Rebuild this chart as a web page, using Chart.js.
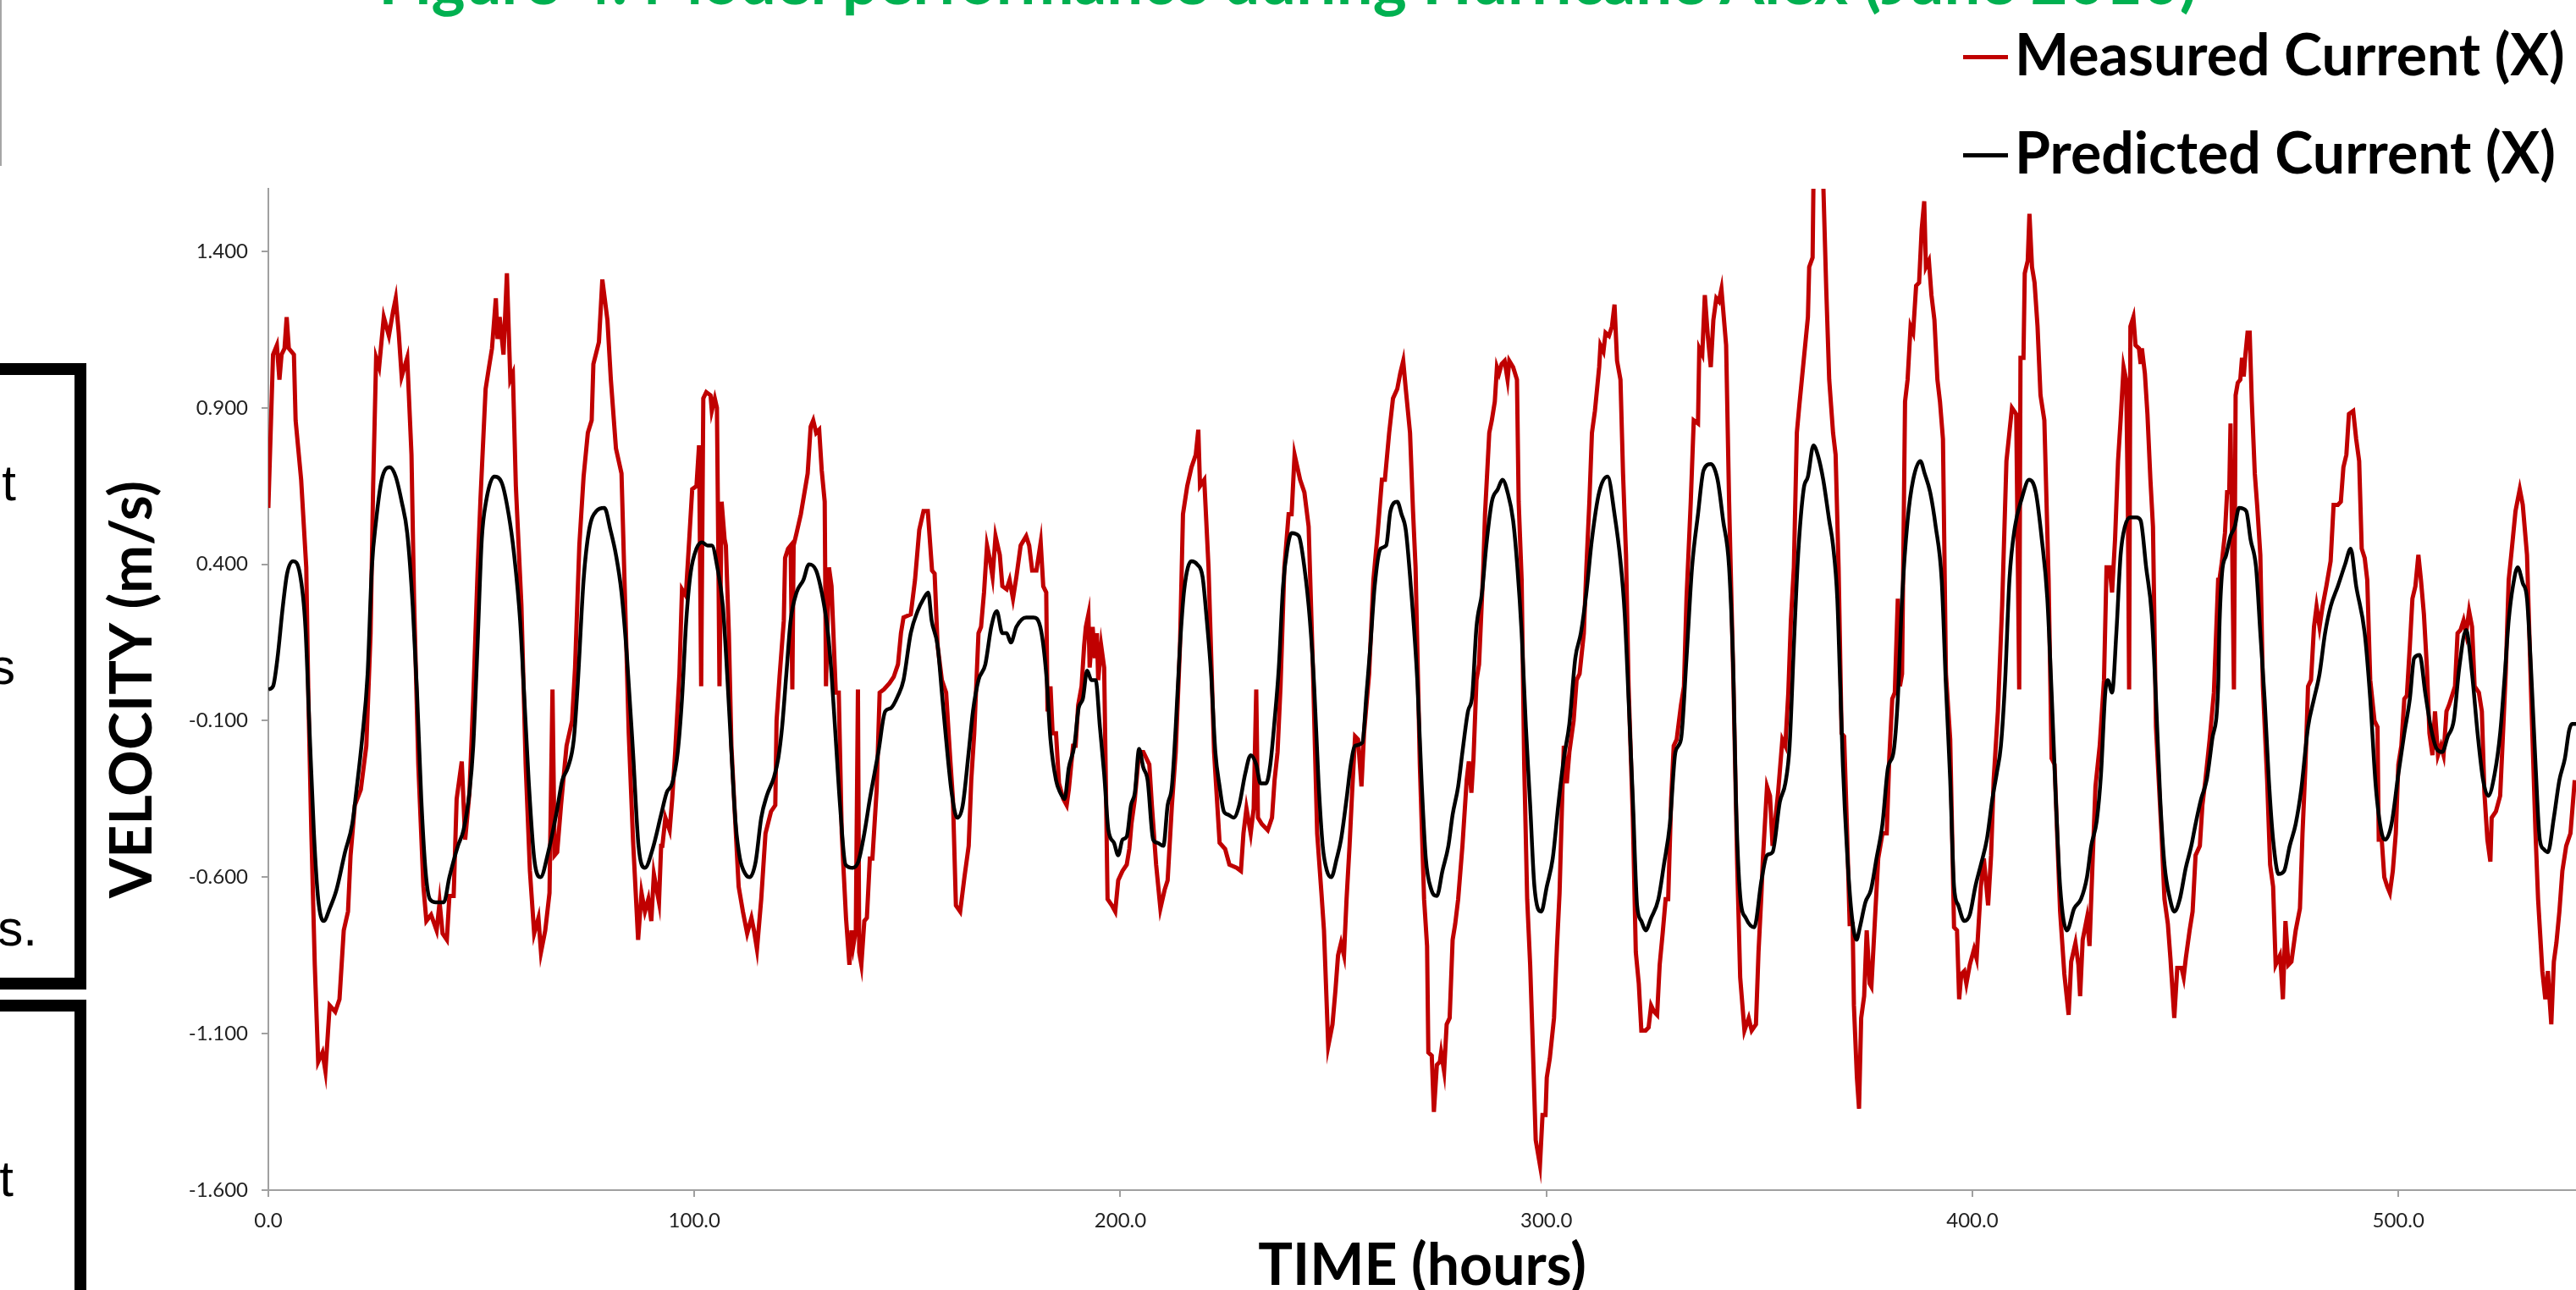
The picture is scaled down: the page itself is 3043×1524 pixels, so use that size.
<!DOCTYPE html>
<html>
<head>
<meta charset="utf-8">
<title>Model performance during Hurricane Alex</title>
<script src="https://cdn.jsdelivr.net/npm/chart.js@4.4.0/dist/chart.umd.min.js"></script>
<style>
  html, body { margin: 0; padding: 0; background: #fff; overflow: hidden; }
  #page { position: relative; width: 3043px; height: 1524px; overflow: hidden; background: #fff; }
  #chartWrap { position: absolute; left: 0; top: 0; width: 3043px; height: 1524px; }

  /* figure caption, mostly above the page edge */
  .figTitle {
    position: absolute; left: 0; top: -62px; width: 3043px; text-align: center;
    font: bold 76px Lato, sans-serif; line-height: 76px; color: #00b050; white-space: nowrap;
  }

  /* legend */
  .legItem { position: absolute; left: 2319px; white-space: nowrap; }
  .legLine { position: absolute; left: 0; width: 53px; height: 5px; }
  .legText { position: absolute; left: 61px; font: bold 68px Lato, sans-serif; line-height: 68px; color: #000; }

  /* neighbouring slide boxes cut by the left edge */
  .greyBox { position: absolute; left: -300px; top: -10px; width: 302px; height: 206px;
             border: 2px solid #a6a6a6; box-sizing: border-box; }
  .blackBox { position: absolute; left: -200px; width: 302px; border: 14px solid #000; box-sizing: border-box; }
  .sideText { position: absolute; font: 60px "Liberation Sans", Arial, sans-serif; line-height: 60px;
              color: #000; text-align: right; white-space: nowrap; }
</style>
</head>
<body>
<div id="page">
  <div id="chartWrap"><canvas id="currentChart"></canvas></div>

  <div class="figTitle">Figure 4. Model performance during Hurricane Alex (June 2010)</div>

  <div class="greyBox"></div>
  <div class="blackBox" style="top:429px; height:740px;"></div>
  <div class="blackBox" style="top:1181px; height:500px;"></div>
  <div class="sideText" style="right:3024px; top:541px;">t</div>
  <div class="sideText" style="right:3025px; top:758px;">s</div>
  <div class="sideText" style="right:2999px; top:1067px;">s.</div>
  <div class="sideText" style="right:3027px; top:1363px;">t</div>

  <div id="legend"></div>
</div>

<script>
// Hurricane Alex, June 2010 — measured vs predicted current (X component)

const seriesNames = ["Measured Current (X)", "Predicted Current (X)"];
const seriesColors = ["#c00000", "#000000"];

const xTicks = [0, 100, 200, 300, 400, 500];
const yTicks = [-1.6, -1.1, -0.6, -0.1, 0.4, 0.9, 1.4];

// measured (red) — hours
const measuredTime = [
  0, 1.1, 2.0, 2.6, 3.1, 3.8, 4.3, 4.8, 6.0, 6.4,
  7.7, 8.9, 9.4, 10.1, 10.9, 11.7, 12.7, 13.4, 14.4, 15.7,
  16.7, 17.7, 18.7, 19.3, 20.3, 21.7, 23.0, 24.0, 24.6, 25.3,
  26.0, 27.1, 28.3, 29.3, 29.9, 30.6, 31.3, 32.6, 33.6, 34.2,
  35.2, 36.4, 37.1, 38.2, 39.5, 40.2, 40.9, 41.9, 42.5, 43.5,
  44.2, 45.4, 46.2, 47.2, 48.1, 49.1, 49.8, 51.0, 51.8, 52.5,
  53.4, 53.8, 54.3, 55.2, 56.0, 56.8, 57.4, 58.1, 59.4, 60.4,
  61.4, 62.4, 63.4, 64.0, 65.0, 66.0, 66.7, 67.2, 67.8, 68.7,
  70.0, 71.3, 72.0, 73.0, 74.0, 75.0, 75.9, 76.3, 77.6, 78.4,
  79.6, 80.4, 81.6, 82.9, 83.6, 84.6, 85.6, 86.8, 87.6, 88.4,
  89.2, 89.9, 90.5, 91.7, 92.2,
  92.5, 93.2, 94.2, 94.8, 95.5, 96.5, 97.1, 98.0, 98.8, 99.5,
  100.5, 101.1, 101.6, 102.1, 102.8, 103.8, 104.1, 104.8, 105.3, 105.6,
  105.9, 106.4, 107.1, 107.4, 108.1, 108.7, 109.4, 110.4, 111.4, 112.4,
  113.4, 114.0, 114.7, 115.7, 116.7, 118.0, 119.0, 119.3, 120.0, 121.0,
  121.3, 122.0, 122.6, 123.0, 123.3, 124.0, 125.0, 126.6, 127.3, 127.9,
  128.6, 129.3, 129.9, 130.6, 130.9, 131.6, 132.2, 133.2, 133.9, 134.6,
  135.6, 136.4, 136.9, 137.3, 137.9, 138.4, 138.7, 139.2, 139.9, 140.5,
  141.2, 141.8, 142.8, 143.5, 144.5, 145.8, 146.8, 147.8, 148.5, 149.1,
  150.8, 151.8, 152.8, 153.8, 154.8, 155.8, 156.4, 157.1, 158.1, 159.1,
  160.1, 160.7, 161.4, 162.4, 163.4, 164.4, 165.0, 165.7, 166.7, 167.3,
  168.0, 168.7, 169.3, 170.0, 170.7, 171.7, 172.3, 173.3, 174.0, 174.8,
  175.6, 176.6, 177.9, 178.6, 179.3, 180.3, 181.3, 181.9, 182.6, 182.9,
  183.6,
  184.1, 184.9, 185.6, 186.6, 187.4, 187.9, 188.9, 189.5, 190.1, 190.9,
  191.5, 191.9, 192.5, 192.8, 193.5, 194.0, 194.5, 194.8, 195.5, 196.2,
  197.0, 198.0, 198.8, 199.5, 200.5, 201.5, 202.1, 202.6, 203.4, 204.4,
  205.4, 206.8, 207.4, 208.4, 209.4, 210.4, 211.1, 212.1, 213.0, 214.0,
  214.7, 215.7, 216.7, 217.7, 218.3, 218.7, 219.7, 220.7, 222.0, 223.3,
  224.6, 225.6, 227.3, 228.3, 228.9, 229.6, 230.6, 231.3, 231.9, 232.3,
  233.2, 234.6, 235.6, 236.2, 236.9, 237.6, 238.5, 239.5, 240.2, 240.9,
  242.2, 243.2, 244.2, 245.2, 246.2, 247.2, 247.8, 248.8, 249.8, 250.5,
  251.1, 251.8, 252.5, 253.1, 253.8, 254.4, 255.1, 255.8, 256.6, 257.2,
  258.4, 259.4, 260.4, 261.4, 262.1, 263.1, 264.0, 265.0, 265.7, 266.4,
  267.0, 268.0, 268.7, 269.3, 270.3, 271.3, 272.0, 272.3, 273.1, 273.6,
  274.3, 275.0,
  275.3, 276.0, 276.6, 277.3, 278.0, 278.6, 279.3, 280.3, 281.3, 281.8,
  282.4, 282.9, 283.6, 284.2, 285.2, 285.6, 286.6, 287.2, 287.9, 288.4,
  288.9, 289.5, 290.2, 290.9, 291.3, 292.2, 293.1, 293.5, 294.2, 294.8,
  295.5, 296.2, 296.8, 297.5, 298.5, 299.1, 299.8, 300.1, 300.8, 301.8,
  302.5, 303.1, 303.8, 304.1, 304.8, 305.4, 306.4, 307.1, 307.8, 308.8,
  309.4, 310.1, 310.7, 311.4, 312.4, 312.7, 313.4, 313.9, 314.7, 315.4,
  316.0, 316.6, 317.4, 318.0, 318.7, 319.3, 320.3, 321.0, 321.7, 322.3,
  323.3, 324.0, 324.6, 325.3, 326.0, 326.6, 327.3, 328.0, 328.6, 329.3,
  329.9, 330.6, 331.6, 332.3, 332.9, 333.9, 334.6, 335.6, 335.9, 336.6,
  337.2, 337.9, 338.6, 339.2, 339.9, 340.5, 341.1, 342.2, 342.9, 343.9,
  344.8, 345.5, 346.5, 347.5, 348.2, 349.2, 349.8, 350.5, 350.8, 351.8,
  352.5, 353.1, 353.8, 354.4, 355.4, 356.1, 356.8, 357.4, 358.1, 358.8,
  359.4, 360.4, 361.4, 361.7, 362.5, 362.7, 363.7, 364.4, 365.0, 365.7,
  366.4,
  367.3, 367.9, 368.6, 369.3, 369.9, 370.6, 371.2, 371.9, 372.2, 372.9,
  373.4, 373.9, 374.6, 375.2, 375.9, 376.3, 377.0, 377.9, 378.9, 379.9,
  380.5, 381.2, 381.8, 382.5, 383.0, 383.5, 384.2, 384.8, 385.5, 386.1,
  386.8, 387.5, 388.1, 388.7, 389.1, 389.8, 390.4, 391.1, 391.8, 392.4,
  393.1, 393.8, 394.8, 395.7, 396.4, 396.9, 397.4, 398.1, 398.6, 399.4,
  400.4, 401.0, 402.0, 402.7, 403.7, 404.4, 405.0, 406.0, 407.0, 408.0,
  409.3, 410.3, 411.0, 411.3, 412.0, 412.3, 413.0, 413.4, 414.0, 414.6,
  415.3, 416.0, 416.9, 417.9, 418.6, 419.3, 419.9, 420.6, 421.6, 422.6,
  423.2, 424.2, 424.9, 425.3, 425.9, 426.9, 427.5, 428.2, 428.9, 429.9,
  430.9, 431.5, 432.2, 432.8, 433.5, 434.2, 434.8, 435.5, 436.1, 436.5,
  436.8, 437.1, 437.8, 438.3, 439.1, 439.5, 439.8, 440.5, 441.1, 441.8,
  442.4, 443.1, 444.4, 445.1, 445.9, 446.5, 447.4, 448.1, 449.1, 449.6,
  450.1, 451.0, 451.7, 452.4, 453.4, 454.0, 454.7, 455.7, 456.7, 457.7,
  458.0, 458.6, 459.3, 459.8, 460.3, 460.6, 461.0, 461.4, 461.8, 462.3,
  462.9, 463.3, 463.7, 464.1, 464.6, 465.1, 465.6, 466.3, 466.9, 467.6,
  468.2, 469.2, 469.9, 470.6, 471.2, 472.2, 472.5, 472.9, 473.5, 474.2,
  474.9, 475.9, 476.9, 477.5, 478.2, 478.8, 479.5, 480.2, 480.8, 481.5,
  482.2, 483.1, 484.1, 484.8, 485.8, 486.5, 487.1, 487.8, 488.4, 489.4,
  490.1, 490.8, 491.4, 492.1, 492.7, 493.4, 494.4, 495.1, 495.4, 496.1,
  496.7, 497.4, 498.0, 498.7, 499.4, 500.0, 500.7, 501.4, 502.0, 502.7,
  503.3, 504.0, 504.7, 505.3, 506.0, 506.7, 507.3, 508.0, 508.6, 509.3,
  510.0, 510.6, 511.3, 511.9, 513.3, 513.9, 514.6, 515.3, 515.9, 516.6,
  517.3, 517.9, 518.9, 519.6, 520.2, 520.9, 521.6, 521.9, 522.9, 523.9,
  524.5, 525.2, 525.9, 526.5, 527.5, 528.5, 529.2, 530.2, 531.2, 532.2,
  532.8, 533.8, 534.5, 535.1, 535.5, 535.9, 536.5, 537.1, 537.8, 538.5,
  539.4, 540.4, 541.4
];

// measured (red) — m/s
const measuredCurrent = [
  0.58, 1.07, 1.10, 0.99, 1.07, 1.09, 1.19, 1.09, 1.07, 0.86,
  0.67, 0.39, -0.03, -0.46, -0.88, -1.19, -1.16, -1.22, -1.01, -1.03,
  -0.99, -0.77, -0.71, -0.53, -0.37, -0.32, -0.18, 0.18, 0.65, 1.06,
  1.03, 1.19, 1.13, 1.21, 1.25, 1.14, 1.00, 1.06, 0.75, 0.29,
  -0.24, -0.63, -0.74, -0.72, -0.77, -0.68, -0.78, -0.80, -0.66, -0.66,
  -0.35, -0.23, -0.48, -0.33, -0.03, 0.37, 0.61, 0.96, 1.03, 1.09,
  1.25, 1.12, 1.19, 1.07, 1.33, 0.99, 1.01, 0.65, 0.27, -0.24,
  -0.58, -0.78, -0.73, -0.84, -0.77, -0.65, 0.00, -0.53, -0.52, -0.37,
  -0.18, -0.10, 0.07, 0.46, 0.68, 0.82, 0.86, 1.04, 1.11, 1.31,
  1.18, 0.99, 0.77, 0.69, 0.35, -0.14, -0.48, -0.80, -0.65, -0.71,
  -0.67, -0.74, -0.59, -0.68, -0.50,
  -0.50, -0.41, -0.45, -0.35, -0.20, 0.05, 0.32, 0.30, 0.48, 0.64,
  0.65, 0.78, 0.01, 0.93, 0.95, 0.94, 0.89, 0.93, 0.90, 0.48,
  0.01, 0.60, 0.48, 0.46, 0.18, -0.18, -0.37, -0.63, -0.71, -0.78,
  -0.73, -0.77, -0.83, -0.67, -0.46, -0.39, -0.37, -0.10, 0.04, 0.22,
  0.42, 0.45, 0.46, 0.00, 0.46, 0.50, 0.56, 0.69, 0.84, 0.86,
  0.82, 0.83, 0.70, 0.60, 0.01, 0.39, 0.33, -0.01, -0.01, -0.46,
  -0.73, -0.88, -0.77, -0.82, -0.77, 0.00, -0.84, -0.88, -0.74, -0.73,
  -0.54, -0.54, -0.32, -0.01, 0.00, 0.02, 0.04, 0.08, 0.18, 0.23,
  0.24, 0.35, 0.51, 0.57, 0.57, 0.38, 0.37, 0.14, 0.03, -0.01,
  -0.23, -0.35, -0.69, -0.71, -0.60, -0.50, -0.29, -0.14, 0.18, 0.20,
  0.31, 0.46, 0.42, 0.36, 0.49, 0.43, 0.33, 0.32, 0.35, 0.29,
  0.36, 0.46, 0.49, 0.46, 0.38, 0.38, 0.47, 0.33, 0.31, -0.07,
  0.01,
  -0.14, -0.14, -0.30, -0.35, -0.37, -0.32, -0.18, -0.18, -0.05, 0.01,
  0.14, 0.20, 0.24, 0.07, 0.20, 0.10, 0.18, 0.03, 0.14, 0.07,
  -0.67, -0.69, -0.71, -0.61, -0.58, -0.56, -0.51, -0.43, -0.35, -0.20,
  -0.20, -0.24, -0.37, -0.56, -0.70, -0.64, -0.61, -0.37, -0.20, 0.14,
  0.56, 0.65, 0.71, 0.75, 0.83, 0.65, 0.67, 0.39, -0.20, -0.49,
  -0.51, -0.56, -0.57, -0.58, -0.46, -0.38, -0.46, -0.38, 0.00, -0.41,
  -0.43, -0.45, -0.41, -0.29, -0.20, 0.01, 0.39, 0.56, 0.56, 0.75,
  0.67, 0.63, 0.52, 0.07, -0.46, -0.65, -0.77, -1.14, -1.07, -0.96,
  -0.85, -0.81, -0.85, -0.67, -0.50, -0.33, -0.15, -0.16, -0.31, -0.14,
  0.05, 0.35, 0.50, 0.67, 0.67, 0.82, 0.93, 0.96, 1.01, 1.05,
  0.96, 0.82, 0.57, 0.39, -0.24, -0.67, -0.82, -1.16, -1.17, -1.35,
  -1.20, -1.19,
  -1.16, -1.22, -1.07, -1.05, -0.80, -0.75, -0.67, -0.50, -0.29, -0.23,
  -0.33, -0.22, 0.03, 0.08, 0.39, 0.56, 0.82, 0.86, 0.92, 1.03,
  1.01, 1.04, 1.05, 0.99, 1.05, 1.03, 0.99, 0.60, 0.35, -0.24,
  -0.67, -0.88, -1.13, -1.44, -1.52, -1.36, -1.36, -1.24, -1.18, -1.05,
  -0.82, -0.65, -0.31, -0.18, -0.30, -0.20, -0.10, 0.03, 0.05, 0.18,
  0.39, 0.60, 0.82, 0.89, 1.03, 1.10, 1.08, 1.14, 1.13, 1.16,
  1.23, 1.05, 0.99, 0.69, 0.43, 0.01, -0.41, -0.84, -0.94, -1.09,
  -1.09, -1.08, -1.01, -1.03, -1.04, -0.88, -0.78, -0.67, -0.67, -0.35,
  -0.18, -0.16, -0.05, 0.01, 0.29, 0.60, 0.86, 0.85, 1.09, 1.07,
  1.26, 1.13, 1.03, 1.18, 1.25, 1.24, 1.28, 1.10, 0.60, 0.03,
  -0.56, -0.92, -1.09, -1.05, -1.09, -1.07, -0.84, -0.65, -0.55, -0.31,
  -0.34, -0.50, -0.41, -0.33, -0.16, -0.18, -0.01, 0.22, 0.39, 0.82,
  0.91, 1.05, 1.19, 1.35, 1.38, 1.62, 1.65, 1.62, 1.62, 1.28,
  0.99,
  0.82, 0.75, 0.39, -0.14, -0.15, -0.46, -0.75, -0.75, -1.01, -1.24,
  -1.34, -1.05, -0.98, -0.77, -0.94, -0.95, -0.77, -0.54, -0.46, -0.46,
  -0.22, -0.03, -0.01, 0.29, 0.01, 0.05, 0.92, 0.99, 1.16, 1.14,
  1.29, 1.30, 1.47, 1.56, 1.35, 1.37, 1.26, 1.18, 0.99, 0.92,
  0.80, 0.05, -0.16, -0.76, -0.77, -0.99, -0.91, -0.90, -0.94, -0.88,
  -0.83, -0.86, -0.63, -0.54, -0.69, -0.53, -0.29, -0.07, 0.27, 0.73,
  0.90, 0.88, 0.00, 1.06, 1.06, 1.33, 1.37, 1.52, 1.35, 1.30,
  1.16, 0.94, 0.86, 0.35, -0.22, -0.24, -0.46, -0.71, -0.91, -1.04,
  -0.87, -0.81, -0.88, -0.98, -0.80, -0.73, -0.82, -0.56, -0.31, -0.18,
  0.03, 0.39, 0.39, 0.31, 0.48, 0.73, 0.86, 1.03, 0.99, 0.60,
  0.00, 1.16, 1.19, 1.10, 1.09, 1.04, 1.09, 1.01, 0.88, 0.67,
  0.52, -0.12, -0.46, -0.67, -0.75, -0.86, -1.05, -0.89, -0.89, -0.92,
  -0.86, -0.77, -0.71, -0.53, -0.50, -0.37, -0.29, -0.16, -0.01, 0.35,
  0.35, 0.41, 0.50, 0.63, 0.63, 0.85, 0.45, 0.00, 0.94, 0.98,
  0.99, 1.06, 1.00, 1.07, 1.14, 1.14, 0.92, 0.69, 0.58, 0.43,
  0.01, -0.29, -0.56, -0.63, -0.88, -0.85, -0.90, -0.99, -0.74, -0.88,
  -0.87, -0.77, -0.70, -0.46, -0.24, 0.01, 0.03, 0.20, 0.265, 0.20,
  0.265, 0.33, 0.41, 0.59, 0.59, 0.60, 0.71, 0.75, 0.88, 0.89,
  0.80, 0.73, 0.45, 0.42, 0.35, 0.03, -0.10, -0.12, -0.48, -0.48,
  -0.60, -0.63, -0.65, -0.58, -0.46, -0.24, -0.18, -0.03, -0.02, 0.14,
  0.29, 0.33, 0.43, 0.35, 0.24, 0.07, -0.14, -0.21, -0.07, -0.21,
  -0.18, -0.21, -0.07, -0.05, 0.01, 0.18, 0.19, 0.22, 0.18, 0.25,
  0.20, 0.01, -0.01, -0.07, -0.33, -0.48, -0.55, -0.41, -0.39, -0.34,
  -0.16, 0.05, 0.35, 0.43, 0.57, 0.64, 0.59, 0.43, -0.03, -0.46,
  -0.67, -0.90, -0.99, -0.90, -0.99, -1.07, -0.87, -0.81, -0.71, -0.58,
  -0.50, -0.46, -0.29
];

// predicted (black) — hours
const predictedTime = [
  0, 1.1, 2.1, 3.4, 4.4, 5.8, 7.4, 8.7, 9.7, 10.7,
  11.7, 13.0, 14.4, 16.0, 18.0, 19.7, 20.7, 22.0, 23.3, 24.3,
  25.3, 26.6, 28.5, 29.9, 31.3, 32.6, 33.9, 34.9, 35.9, 36.9,
  37.9, 39.2, 41.2, 42.5, 44.5, 45.8, 47.2, 48.1, 49.1, 50.1,
  51.1, 53.0, 54.8, 56.4, 57.7, 59.1, 60.1, 61.1, 62.4, 63.9,
  65.7, 67.7, 69.0, 70.3, 71.7, 72.6, 74.0, 75.3, 77.0, 78.9,
  80.3, 81.6, 82.9, 84.2, 85.6, 86.9, 88.4, 90.2, 92.2,
  93.5, 94.8, 96.1, 97.1, 98.1, 99.1, 100.5, 101.8, 103.1, 104.1,
  105.4, 106.7, 107.7, 108.7, 109.7, 110.7, 112.0, 113.0, 114.4, 115.7,
  117.0, 118.7, 119.7, 120.6, 121.6, 122.6, 124.0, 125.6, 126.9, 128.6,
  129.9, 131.2, 132.2, 133.2, 134.2, 135.5, 137.2, 138.5, 139.9, 141.2,
  143.2, 144.8, 146.1, 147.8, 149.1, 150.8, 152.4, 153.8, 154.9, 155.7,
  157.1, 158.1, 159.1, 160.4, 161.7, 163.0, 164.4, 165.4, 166.7, 168.3,
  169.7, 171.0, 172.3, 173.3, 174.3, 175.6, 177.9, 179.6, 181.2, 182.6,
  183.6,
  184.9, 185.9, 186.9, 187.9, 189.2, 190.2, 191.2, 192.2, 193.2, 194.2,
  195.2, 196.2, 197.2, 198.5, 199.5, 200.5, 201.5, 202.5, 203.4, 204.4,
  205.4, 206.4, 207.7, 208.7, 210.1, 211.1, 212.1, 213.0, 214.0, 215.0,
  216.7, 218.0, 219.3, 220.3, 221.3, 222.3, 223.3, 224.3, 225.3, 226.6,
  227.9, 229.3, 230.6, 231.9, 232.9, 234.2, 235.2, 236.2, 237.2, 238.2,
  239.2, 240.2, 241.9, 243.2, 244.5, 245.5, 246.5, 247.5, 248.5, 249.5,
  250.8, 251.8, 253.1, 254.1, 255.1, 256.8, 257.8, 258.7, 259.7, 261.1,
  262.4, 263.4, 265.0, 266.0, 267.0, 268.3, 269.7, 270.7, 271.7, 273.0,
  274.3,
  275.6, 277.0, 278.0, 279.3, 280.3, 281.6, 282.6, 283.6, 284.9, 285.9,
  287.2, 288.6, 289.7, 290.9, 292.2, 293.2, 294.2, 295.2, 296.2, 297.2,
  298.8, 300.1, 301.5, 302.8, 304.1, 305.4, 306.8, 308.1, 309.4, 310.7,
  312.4, 314.4, 316.0, 317.4, 318.4, 319.3, 320.3, 321.3, 322.3, 323.3,
  324.6, 326.3, 327.6, 329.0, 330.3, 331.6, 332.9, 334.2, 335.6, 336.9,
  338.6, 340.2, 341.5, 342.9, 343.9, 344.5, 345.5, 346.8, 348.8, 350.5,
  351.8, 353.1, 354.8, 356.1, 357.1, 358.1, 359.1, 360.4, 361.4, 362.7,
  363.7, 365.0, 366.4,
  367.3, 368.3, 368.9, 369.6, 370.6, 371.6, 372.8, 373.6, 374.9, 376.2,
  377.5, 378.9, 380.2, 381.5, 382.5, 383.5, 384.8, 386.1, 387.8, 388.8,
  390.1, 391.4, 392.8, 393.8, 394.8, 395.7, 396.7, 398.1, 399.4, 400.7,
  402.0, 403.4, 404.7, 405.7, 406.7, 407.7, 408.7, 410.0, 411.6, 413.3,
  414.9, 416.3, 417.6, 418.6, 419.6, 420.6, 422.2, 423.9, 425.5, 426.9,
  427.9, 429.2, 430.2, 431.2, 431.8, 432.8, 433.8, 434.8, 435.8, 437.1,
  438.5, 439.5, 440.8, 442.1, 443.1, 444.1, 445.1, 446.4, 447.4, 448.7,
  450.1, 451.4, 452.4, 453.7, 455.0, 456.3, 457.7,
  458.0, 458.6, 459.6, 460.6, 461.6, 462.6, 464.3, 465.3, 466.6, 467.6,
  468.6, 469.6, 470.6, 471.9, 473.2, 474.5, 475.9, 477.2, 478.8, 480.2,
  481.5, 482.8, 484.1, 485.8, 487.5, 488.8, 490.1, 492.1, 493.4, 494.7,
  496.1, 496.9, 498.4, 500.0, 501.4, 502.7, 503.7, 505.0, 506.3, 507.6,
  509.0, 510.3, 511.6, 513.0, 514.3, 515.9, 517.3, 518.6, 519.9, 521.1,
  522.6, 523.9, 524.9, 525.9, 526.9, 528.0, 529.2, 530.2, 531.2, 532.2,
  533.2, 534.1, 535.1, 536.5, 537.8, 539.1, 540.1, 540.8, 541.7
];

// predicted (black) — m/s
const predictedCurrent = [
  0.00, 0.01, 0.095, 0.265, 0.37, 0.41, 0.37, 0.20, -0.14, -0.46,
  -0.67, -0.74, -0.70, -0.64, -0.52, -0.43, -0.32, -0.16, 0.05, 0.39,
  0.54, 0.67, 0.71, 0.68, 0.60, 0.50, 0.265, -0.01, -0.35, -0.58,
  -0.67, -0.68, -0.68, -0.60, -0.50, -0.45, -0.33, -0.18, 0.14, 0.48,
  0.60, 0.68, 0.66, 0.56, 0.43, 0.22, -0.03, -0.29, -0.54, -0.60,
  -0.52, -0.39, -0.29, -0.25, -0.16, 0.01, 0.35, 0.51, 0.57, 0.58,
  0.51, 0.43, 0.31, 0.10, -0.20, -0.50, -0.57, -0.51, -0.40,
  -0.33, -0.30, -0.20, -0.03, 0.22, 0.37, 0.45, 0.47, 0.46, 0.46,
  0.39, 0.265, 0.05, -0.20, -0.43, -0.54, -0.59, -0.60, -0.55, -0.41,
  -0.34, -0.28, -0.22, -0.12, 0.05, 0.22, 0.31, 0.35, 0.40, 0.38,
  0.31, 0.20, 0.05, -0.16, -0.37, -0.56, -0.57, -0.55, -0.46, -0.35,
  -0.20, -0.07, -0.06, -0.02, 0.03, 0.18, 0.25, 0.29, 0.31, 0.22,
  0.14, -0.01, -0.16, -0.33, -0.41, -0.37, -0.20, -0.07, 0.03, 0.08,
  0.20, 0.25, 0.18, 0.18, 0.15, 0.20, 0.23, 0.23, 0.20, 0.05,
  -0.16,
  -0.29, -0.33, -0.35, -0.25, -0.18, -0.06, -0.03, 0.06, 0.03, 0.03,
  -0.12, -0.27, -0.45, -0.49, -0.53, -0.48, -0.47, -0.37, -0.33, -0.19,
  -0.25, -0.29, -0.48, -0.49, -0.50, -0.37, -0.31, -0.12, 0.14, 0.32,
  0.41, 0.40, 0.36, 0.22, 0.05, -0.20, -0.31, -0.39, -0.40, -0.41,
  -0.37, -0.27, -0.21, -0.24, -0.30, -0.30, -0.24, -0.10, 0.07, 0.33,
  0.45, 0.50, 0.49, 0.39, 0.22, 0.01, -0.29, -0.50, -0.58, -0.60,
  -0.54, -0.48, -0.35, -0.24, -0.18, -0.17, -0.01, 0.14, 0.33, 0.45,
  0.46, 0.57, 0.60, 0.56, 0.51, 0.31, 0.03, -0.29, -0.54, -0.64,
  -0.66,
  -0.58, -0.50, -0.40, -0.31, -0.20, -0.07, -0.02, 0.20, 0.31, 0.46,
  0.60, 0.64, 0.67, 0.63, 0.54, 0.39, 0.18, -0.12, -0.37, -0.63,
  -0.71, -0.63, -0.54, -0.37, -0.22, -0.11, 0.10, 0.18, 0.31, 0.48,
  0.63, 0.68, 0.56, 0.41, 0.24, -0.03, -0.35, -0.69, -0.74, -0.77,
  -0.73, -0.67, -0.56, -0.43, -0.20, -0.16, 0.10, 0.39, 0.56, 0.70,
  0.72, 0.67, 0.54, 0.39, 0.05, -0.35, -0.66, -0.73, -0.76, -0.61,
  -0.53, -0.52, -0.36, -0.30, -0.18, 0.14, 0.43, 0.64, 0.68, 0.78,
  0.75, 0.67, 0.54,
  0.46, 0.29, 0.05, -0.24, -0.52, -0.71, -0.80, -0.76, -0.68, -0.64,
  -0.54, -0.43, -0.25, -0.20, -0.03, 0.29, 0.54, 0.67, 0.73, 0.69,
  0.63, 0.52, 0.35, 0.01, -0.29, -0.63, -0.69, -0.74, -0.72, -0.63,
  -0.56, -0.48, -0.35, -0.27, -0.18, 0.03, 0.35, 0.52, 0.61, 0.67,
  0.63, 0.48, 0.29, -0.01, -0.35, -0.63, -0.77, -0.70, -0.67, -0.60,
  -0.50, -0.42, -0.27, -0.01, 0.03, -0.01, 0.18, 0.43, 0.52, 0.55,
  0.55, 0.54, 0.39, 0.24, -0.03, -0.35, -0.56, -0.67, -0.71, -0.67,
  -0.57, -0.50, -0.43, -0.35, -0.29, -0.16, 0.01,
  0.20, 0.37, 0.43, 0.49, 0.52, 0.58, 0.57, 0.48, 0.39, 0.18,
  -0.03, -0.29, -0.48, -0.59, -0.58, -0.50, -0.43, -0.32, -0.12, -0.03,
  0.05, 0.18, 0.265, 0.33, 0.40, 0.45, 0.33, 0.18, -0.03, -0.31,
  -0.46, -0.48, -0.43, -0.27, -0.14, -0.03, 0.10, 0.11, -0.01, -0.12,
  -0.19, -0.20, -0.15, -0.10, 0.07, 0.19, 0.05, -0.14, -0.29, -0.34,
  -0.27, -0.14, 0.03, 0.22, 0.33, 0.39, 0.34, 0.29, 0.05, -0.24,
  -0.48, -0.51, -0.52, -0.41, -0.29, -0.22, -0.13, -0.11, -0.11
];

const toPoints = (xs, ys) => xs.map((x, i) => ({ x: x, y: ys[i] }));

const tickFont = { family: "Lato", size: 24 };
const titleFont = { family: "Lato", size: 68, weight: "bold" };

const ctx = document.getElementById("currentChart").getContext("2d");

const chart = new Chart(ctx, {
  type: "line",
  data: {
    datasets: [
      {
        label: seriesNames[0],
        data: toPoints(measuredTime, measuredCurrent),
        borderColor: seriesColors[0],
        borderWidth: 5,
        pointRadius: 0,
        tension: 0,
        order: 1
      },
      {
        label: seriesNames[1],
        data: toPoints(predictedTime, predictedCurrent),
        borderColor: seriesColors[1],
        borderWidth: 4.5,
        pointRadius: 0,
        cubicInterpolationMode: "monotone",
        order: 0
      }
    ]
  },
  options: {
    responsive: true,
    maintainAspectRatio: false,
    animation: false,
    layout: { padding: { top: 223, right: 0, bottom: 0, left: 0 } },
    plugins: {
      legend: { display: false },
      tooltip: { enabled: false }
    },
    scales: {
      x: {
        type: "linear",
        min: 0,
        max: 541.7,
        afterBuildTicks: (s) => { s.ticks = xTicks.map(v => ({ value: v })); },
        afterFit: (s) => { s.height = 118; },
        ticks: {
          callback: (v) => Number(v).toFixed(1),
          font: tickFont,
          color: "#222",
          padding: 14,
          maxRotation: 0
        },
        grid: { drawOnChartArea: false, drawTicks: true, tickLength: 8, color: "#a0a0a0", lineWidth: 2 },
        border: { display: true, color: "#a0a0a0", width: 2 },
        title: {
          display: true,
          text: "TIME (hours)",
          font: { ...titleFont, lineHeight: 0.82 },
          color: "#000",
          padding: 0
        }
      },
      y: {
        min: -1.6,
        max: 1.6,
        afterBuildTicks: (s) => { s.ticks = yTicks.map(v => ({ value: v })); },
        afterFit: (s) => { s.width = 317; },
        ticks: {
          callback: (v) => Number(v).toFixed(3),
          font: tickFont,
          color: "#222",
          padding: 16
        },
        grid: { drawOnChartArea: false, drawTicks: true, tickLength: 8, color: "#a0a0a0", lineWidth: 2 },
        border: { display: true, color: "#a0a0a0", width: 2 },
        title: {
          display: true,
          text: "VELOCITY (m/s)",
          font: titleFont,
          color: "#000",
          padding: { top: 116, bottom: 0 }
        }
      }
    }
  }
});

/* legend in the top right corner, stacked */
function buildLegend() {
  const box = document.getElementById("legend");
  const rowTops = [29, 145];     // text box tops
  const lineTops = [36, 36];     // line offset inside a row
  chart.data.datasets.forEach((ds, i) => {
    const row = document.createElement("div");
    row.className = "legItem";
    row.style.top = rowTops[i] + "px";
    const line = document.createElement("span");
    line.className = "legLine";
    line.style.top = lineTops[i] + "px";
    line.style.background = ds.borderColor;
    const txt = document.createElement("span");
    txt.className = "legText";
    txt.style.top = "0px";
    txt.textContent = ds.label;
    row.appendChild(line);
    row.appendChild(txt);
    box.appendChild(row);
  });
}
buildLegend();
</script>
</body>
</html>
